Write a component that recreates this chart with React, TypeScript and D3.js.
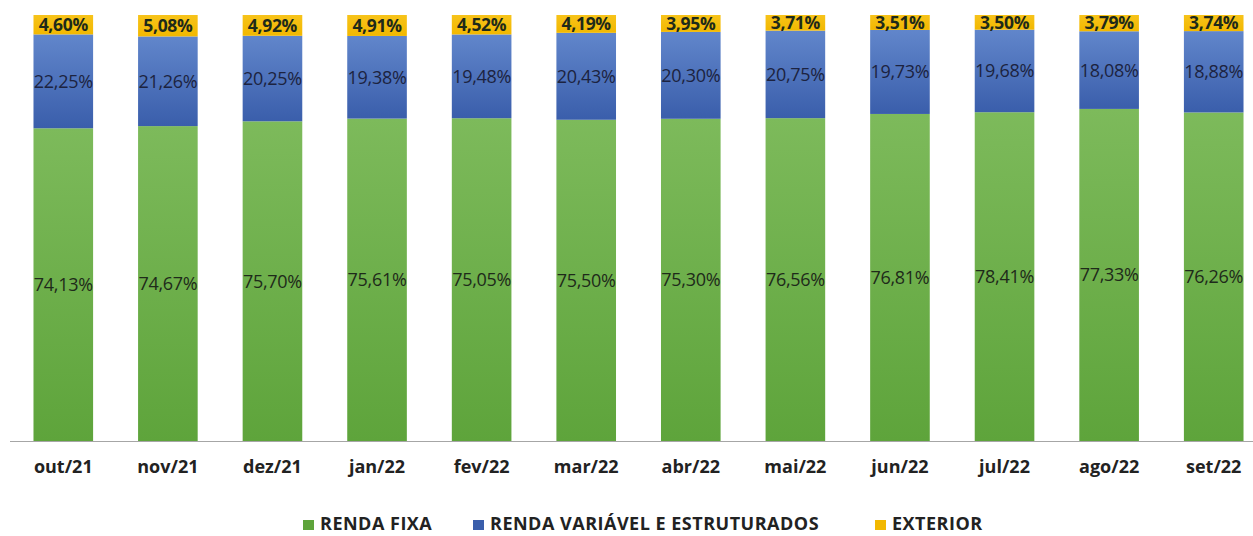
import { useEffect, useRef } from "react";
import * as d3 from "d3";

const months = ["out/21", "nov/21", "dez/21", "jan/22", "fev/22", "mar/22", "abr/22", "mai/22", "jun/22", "jul/22", "ago/22", "set/22"];
const rendaFixa = [74.13, 74.67, 75.7, 75.61, 75.05, 75.5, 75.3, 76.56, 76.81, 78.41, 77.33, 76.26];
const rendaVariavel = [22.25, 21.26, 20.25, 19.38, 19.48, 20.43, 20.3, 20.75, 19.73, 19.68, 18.08, 18.88];
const exterior = [4.6, 5.08, 4.92, 4.91, 4.52, 4.19, 3.95, 3.71, 3.51, 3.5, 3.79, 3.74];
const seriesNames = ["RENDA FIXA", "RENDA VARIÁVEL E ESTRUTURADOS", "EXTERIOR"];

const W = 1253;
const H = 536;
const fmt = (v: number) => v.toFixed(2).replace(".", ",") + "%";

const App = () => {
  const svgRef = useRef<SVGSVGElement>(null);

  useEffect(() => {
    document.body.style.margin = "0";
    const svg = d3.select(svgRef.current);
    svg.selectAll("*").remove();

    const x = d3.scaleBand().domain(months).range([11, 1266]).paddingInner(0.43).paddingOuter(0.215);
    const y = d3.scaleLinear().domain([0, 1]).range([441, 15]);

    const defs = svg.append("defs");
    const grads = [
      ["g0", "#7dba5b", "#5ea43b"],
      ["g1", "#6186cb", "#3a5eab"],
      ["g2", "#f7c31a", "#f2b800"],
    ];
    grads.forEach(([id, a, b]) => {
      const lg = defs.append("linearGradient").attr("id", id).attr("x1", 0).attr("y1", 0).attr("x2", 0).attr("y2", 1);
      lg.append("stop").attr("offset", "0%").attr("stop-color", a);
      lg.append("stop").attr("offset", "100%").attr("stop-color", b);
    });

    const rows = months.map((m, i) => ({ m, s0: rendaFixa[i], s1: rendaVariavel[i], s2: exterior[i] }));
    // 100% stacked
    const stack = d3.stack<any>().keys(["s0", "s1", "s2"]).offset(d3.stackOffsetExpand);
    const layers = stack(rows);

    layers.forEach((layer, s) => {
      layer.forEach((seg) => {
        const m = seg.data.m;
        const y0 = y(seg[0]);
        const y1 = y(seg[1]);
        svg
          .append("rect")
          .attr("x", x(m)!)
          .attr("width", x.bandwidth())
          .attr("y", y1)
          .attr("height", y0 - y1)
          .attr("fill", `url(#g${s})`);
        svg
          .append("text")
          .attr("x", x(m)! + x.bandwidth() / 2)
          .attr("y", (y0 + y1) / 2)
          .attr("dy", "0.36em")
          .attr("text-anchor", "middle")
          .attr("font-family", "'Open Sans', sans-serif")
          .attr("font-size", s === 2 ? 17.5 : 18)
          .attr("font-weight", s === 2 ? 700 : 400)
          .attr("fill", s === 1 ? "#1c2340" : "#1e2a1a")
          .attr("letter-spacing", -0.3)
          .text(fmt(seg.data[layer.key]));
      });
    });

    svg.append("line").attr("x1", 10).attr("x2", W).attr("y1", 441.5).attr("y2", 441.5).attr("stroke", "#a6a6a6").attr("stroke-width", 1.2);

    svg
      .selectAll(".cat")
      .data(months)
      .join("text")
      .attr("x", (d) => x(d)! + x.bandwidth() / 2)
      .attr("y", 467)
      .attr("dy", "0.36em")
      .attr("text-anchor", "middle")
      .attr("font-family", "'Open Sans', sans-serif")
      .attr("font-weight", 700)
      .attr("font-size", 18)
      .attr("fill", "#222")
      .text((d) => d);

    const legX = [303, 473, 875];
    seriesNames.forEach((n, i) => {
      svg.append("rect").attr("x", legX[i]).attr("y", 520).attr("width", 11).attr("height", 10).attr("fill", grads[i][2]);
      svg
        .append("text")
        .attr("x", legX[i] + 17)
        .attr("y", 530)
        .attr("font-family", "'Open Sans', sans-serif")
        .attr("font-weight", 700)
        .attr("font-size", 18)
        .attr("letter-spacing", 0.5)
        .attr("fill", "#222")
        .text(n);
    });
  }, []);

  return (
    <div style={{ position: "fixed", left: 0, top: 0, width: W, height: H, background: "#fff" }}>
      <svg ref={svgRef} width={W} height={H}></svg>
    </div>
  );
};

export default App;
